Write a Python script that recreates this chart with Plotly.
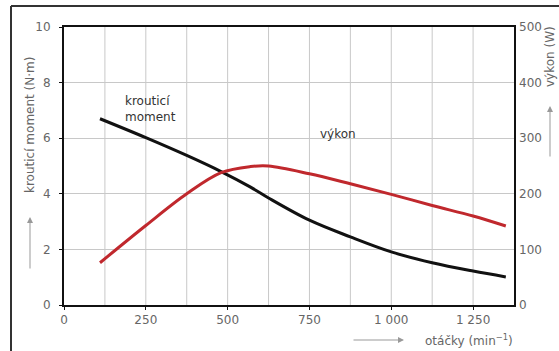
import plotly.graph_objects as go

rpm = [110, 250, 375, 480, 570, 625, 750, 875, 1000, 1125, 1250, 1350]
torque = [6.7, 6.02, 5.38, 4.8, 4.24, 3.85, 3.05, 2.45, 1.91, 1.52, 1.22, 1.01]
power = [76, 143, 200, 238, 249, 250, 236, 218, 199, 179, 160, 142]

x_ticks = [0, 250, 500, 750, 1000, 1250]
x_tick_labels = ["0", "250", "500", "750", "1 000", "1 250"]
y_ticks = [0, 2, 4, 6, 8, 10]
y2_ticks = [0, 100, 200, 300, 400, 500]

FONT = "DejaVu Sans"
GRAY = "#666666"
L, R, T, B = 64, 45, 27, 46
W, H = 559, 351
pw, ph = W - L - R, H - T - B

def px(x):
    return (x - L) / pw

def py(y):
    return (H - B - y) / ph

fig = go.Figure()
fig.add_trace(go.Scatter(x=rpm, y=torque, mode="lines", line=dict(color="#111111", width=3, shape="spline", smoothing=1.0),
                         yaxis="y", showlegend=False, hoverinfo="skip"))
fig.add_trace(go.Scatter(x=rpm, y=power, mode="lines", line=dict(color="#c0282d", width=3, shape="spline", smoothing=1.0),
                         yaxis="y2", showlegend=False, hoverinfo="skip"))

# vertical minor grid lines every 125
for v in range(125, 1375, 125):
    fig.add_shape(type="line", xref="x", yref="paper", x0=v, x1=v, y0=0, y1=1,
                  line=dict(color="#c8c8c8", width=1), layer="below")

fig.update_layout(
    width=W, height=H,
    margin=dict(l=L, r=R, t=T, b=B, autoexpand=False),
    paper_bgcolor="white", plot_bgcolor="white",
    font=dict(family=FONT, size=12, color=GRAY),
    xaxis=dict(range=[0, 1375], tickvals=x_ticks, ticktext=x_tick_labels, showgrid=False,
               showline=True, linecolor="#111", linewidth=2, mirror=True, automargin=False,
               ticks="outside", ticklen=3, tickcolor="#111", zeroline=False,
               tickfont=dict(size=12, color=GRAY)),
    yaxis=dict(range=[0, 10], tickvals=y_ticks, showgrid=True, gridcolor="#c8c8c8", gridwidth=1,
               showline=True, linecolor="#111", linewidth=2, mirror=True, automargin=False,
               ticks="outside", ticklen=3, tickcolor="#111", zeroline=False,
               ticklabelstandoff=6, tickfont=dict(size=12, color=GRAY)),
    yaxis2=dict(range=[0, 500], tickvals=y2_ticks, overlaying="y", side="right", showgrid=False,
                showline=False, zeroline=False, ticks="", ticklabelstandoff=4, automargin=False,
                tickfont=dict(size=12, color=GRAY)),
)

ann = [
    dict(x=180, y=7.06, xref="x", yref="y", text="krouticí<br>moment", showarrow=False,
         xanchor="left", yanchor="middle", align="left", font=dict(size=12, color="#333")),
    dict(x=838, y=6.16, xref="x", yref="y", text="výkon", showarrow=False,
         xanchor="center", yanchor="middle", font=dict(size=12, color="#333")),
    # left axis title
    dict(x=px(30), y=py(125), xref="paper", yref="paper", text="krouticí moment (N·m)", textangle=-90,
         showarrow=False, xanchor="center", yanchor="middle", font=dict(size=12, color=GRAY)),
    dict(x=px(30), y=py(217), ax=0, ay=53, xref="paper", yref="paper", axref="pixel", ayref="pixel",
         text="", showarrow=True, arrowhead=2, arrowsize=1.2, arrowwidth=1, arrowcolor="#999"),
    # right axis title
    dict(x=px(550), y=py(57), xref="paper", yref="paper", text="výkon (W)", textangle=-90,
         showarrow=False, xanchor="center", yanchor="middle", font=dict(size=12, color=GRAY)),
    dict(x=px(550), y=py(106), ax=0, ay=52, xref="paper", yref="paper", axref="pixel", ayref="pixel",
         text="", showarrow=True, arrowhead=2, arrowsize=1.2, arrowwidth=1, arrowcolor="#999"),
    # x axis title
    dict(x=px(515), y=py(340), xref="paper", yref="paper", text="otáčky (min<sup>−1</sup>)",
         showarrow=False, xanchor="right", yanchor="middle", font=dict(size=12, color=GRAY)),
    dict(x=px(404), y=py(340), ax=-52, ay=0, xref="paper", yref="paper", axref="pixel", ayref="pixel",
         text="", showarrow=True, arrowhead=2, arrowsize=1.2, arrowwidth=1, arrowcolor="#999"),
]
fig.update_layout(annotations=ann)

# outer frame (left and top edges)
fig.add_shape(type="line", xref="paper", yref="paper", x0=px(11), x1=px(11), y0=py(6), y1=py(H + 5),
              line=dict(color="#333", width=2))
fig.add_shape(type="line", xref="paper", yref="paper", x0=px(11), x1=px(W + 5), y0=py(6), y1=py(6),
              line=dict(color="#333", width=2))

fig.write_html("out.html", config={"displayModeBar": False},
               post_script="document.body.style.margin='0';document.body.style.overflow='hidden';")
